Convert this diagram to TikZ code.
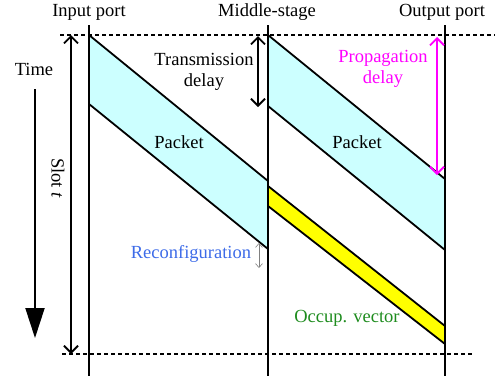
\documentclass[tikz,border=0pt]{standalone}
\usepackage{fontspec}
\setmainfont{Liberation Serif}
\usetikzlibrary{arrows.meta}
\definecolor{pktfill}{HTML}{CCFFFF}
\definecolor{reconf}{HTML}{3D6BE8}
\definecolor{occ}{HTML}{1E8C1E}
\definecolor{magen}{HTML}{FF00FF}
\definecolor{yel}{HTML}{FFFF00}
\begin{document}
\begin{tikzpicture}[x=1pt,y=-1pt,
  lbl/.style={font=\fontsize{18.5}{21}\selectfont, inner sep=0pt, anchor=center},
  portline/.style={line width=1.8pt},
  dashline/.style={line width=1.5pt, dash pattern=on 4pt off 3pt},
  edgeline/.style={line width=1.8pt, line join=miter},
  dblarrow/.style={line width=1.8pt, {Straight Barb[length=7pt,width=14pt]}-{Straight Barb[length=7pt,width=14pt]}},
  smallarrow/.style={line width=0.6pt, draw=gray, {Straight Barb[length=4pt,width=7pt]}-{Straight Barb[length=4pt,width=7pt]}},
]
\useasboundingbox (0,0) rectangle (495,376);

% coordinates
\coordinate (inT) at (89,25);   \coordinate (inB) at (89,376);
\coordinate (midT) at (268,25); \coordinate (midB) at (268,376);
\coordinate (outT) at (445,25); \coordinate (outB) at (445,376);
\coordinate (dtL) at (60,35);   \coordinate (dtR) at (495,35);
\coordinate (dbL) at (62,354);  \coordinate (dbR) at (473,354);
\coordinate (p1a) at (89,35);   \coordinate (p1b) at (268,181);
\coordinate (p1c) at (268,249); \coordinate (p1d) at (89,104);
\coordinate (p2a) at (268,35);  \coordinate (p2b) at (445,179);
\coordinate (p2c) at (445,250); \coordinate (p2d) at (268,106);
\coordinate (y1a) at (268,186); \coordinate (y1b) at (445,326);
\coordinate (y1c) at (445,344); \coordinate (y1d) at (268,206);
\coordinate (slotT) at (71,35); \coordinate (slotB) at (71,354);
\coordinate (timeT) at (35,89); \coordinate (timeB) at (35,338);
\coordinate (trT) at (258,36);  \coordinate (trB) at (258,107);
\coordinate (prT) at (437,37);  \coordinate (prB) at (437,175);
\coordinate (rcT) at (259,243); \coordinate (rcB) at (259,268);

% fills
\fill[pktfill] (p1a) -- (p1b) -- (p1c) -- (p1d) -- cycle;
\fill[pktfill] (p2a) -- (p2b) -- (p2c) -- (p2d) -- cycle;
\fill[yel] (y1a) -- (y1b) -- (y1c) -- (y1d) -- cycle;

% packet edges
\draw[edgeline] (p1a) -- (p1b);
\draw[edgeline] (p1d) -- (p1c);
\draw[edgeline] (p2a) -- (p2b);
\draw[edgeline] (p2d) -- (p2c);
\draw[edgeline] (y1a) -- (y1b);
\draw[edgeline] (y1d) -- (y1c);

% dashed slot boundaries
\draw[dashline] (dtL) -- (dtR);
\draw[dashline] (dbL) -- (dbR);

% port lines
\draw[portline] (inT) -- (inB);
\draw[portline] (midT) -- (midB);
\draw[portline] (outT) -- (outB);

% arrows
\draw[dblarrow] (slotT) -- (slotB);
\draw[line width=2pt, -{Triangle[length=30pt,width=19pt]}] (timeT) -- (timeB);
\draw[dblarrow] (trT) -- (trB);
\draw[dblarrow, draw=magen] (prT) -- (prB);
\draw[smallarrow] (rcT) -- (rcB);

% labels
\node[lbl] (linput) at (89,12) {Input port};
\node[lbl] (lmid) at (267,12) {Middle-stage};
\node[lbl] (lout) at (442,12) {Output port};
\node[lbl] (ltime) at (34,69) {Time};
\node[lbl, rotate=-90] (lslot) at (58,178) {Slot \textit{t}};
\node[lbl, align=center] (ltrans) at (204,72) {Transmission\\delay};
\node[lbl, align=center, text=magen] (lprop) at (383,69) {Propagation\\delay};
\node[lbl] (lpk1) at (179,142) {Packet};
\node[lbl] (lpk2) at (357,142) {Packet};
\node[lbl, text=reconf] (lrec) at (191,254) {Reconfiguration};
\node[lbl, text=occ] (locc) at (347,318) {Occup. vector};
\end{tikzpicture}
\end{document}
